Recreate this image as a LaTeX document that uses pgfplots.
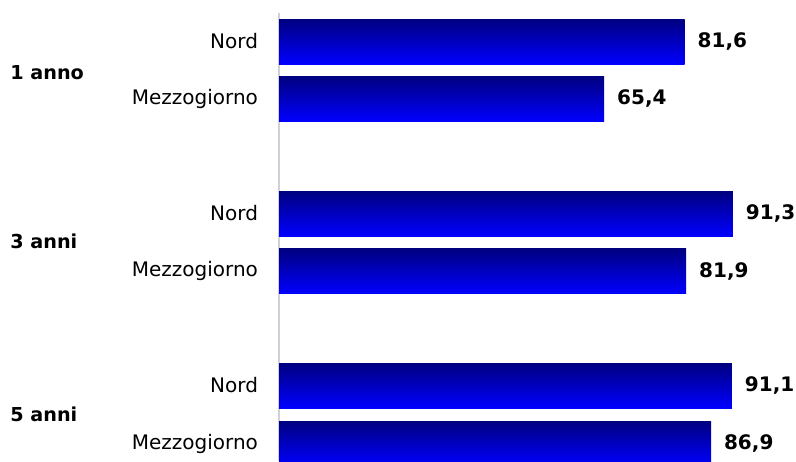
\documentclass[border=0pt]{standalone}
\usepackage{pgfplots}
\pgfplotsset{compat=1.18}
\usepackage{fontspec}
\setmainfont{DejaVu Sans}
\definecolor{barTop}{RGB}{0,0,128}
\definecolor{barBot}{RGB}{0,0,255}
\definecolor{axisGray}{RGB}{208,208,216}
\newcommand{\lblfont}{\fontsize{10pt}{12pt}\selectfont}
\begin{document}
\begin{tikzpicture}
\useasboundingbox (0,0) rectangle (398pt,230.5pt);
\begin{axis}[
	at={(139.5pt,0pt)}, anchor=south west,
	scale only axis,
	width=258.5pt, height=224pt,
	xmin=0, xmax=104,
	ymin=13, ymax=461,
	y dir=reverse,
	clip=false,
	axis x line=none,
	axis y line*=left,
	y axis line style={draw=axisGray, line width=1pt, -},
	xbar,
	bar width=22.5pt,
	bar shift=0pt,
	ytick={41.5,99,213.5,271,385.5,443.5},
	yticklabels={Nord,Mezzogiorno,Nord,Mezzogiorno,Nord,Mezzogiorno},
	major tick length=0pt,
	yticklabel style={font=\lblfont, xshift=-7pt},
	every axis plot/.append style={draw=none, top color=barTop, bottom color=barBot},
	nodes near coords,
	nodes near coords style={font=\lblfont\bfseries, text=black, anchor=west, xshift=3pt,
		/pgf/number format/.cd, use comma, fixed, fixed zerofill, precision=1, assume math mode=true},
	]
	\addplot coordinates {(81.6,41.5)};
	\addplot coordinates {(65.4,99)};
	\addplot coordinates {(91.3,213.5)};
	\addplot coordinates {(81.9,271)};
	\addplot coordinates {(91.1,385.5)};
	\addplot coordinates {(86.9,443.5)};
	\node[anchor=west, inner sep=0pt, font=\fontsize{9.6pt}{12pt}\selectfont\bfseries, xshift=-134.5pt] at (axis cs:0,73) {1 anno};
	\node[anchor=west, inner sep=0pt, font=\fontsize{9.6pt}{12pt}\selectfont\bfseries, xshift=-134.5pt] at (axis cs:0,241) {3 anni};
	\node[anchor=west, inner sep=0pt, font=\fontsize{9.6pt}{12pt}\selectfont\bfseries, xshift=-134.5pt] at (axis cs:0,414) {5 anni};
\end{axis}
\end{tikzpicture}
\end{document}
